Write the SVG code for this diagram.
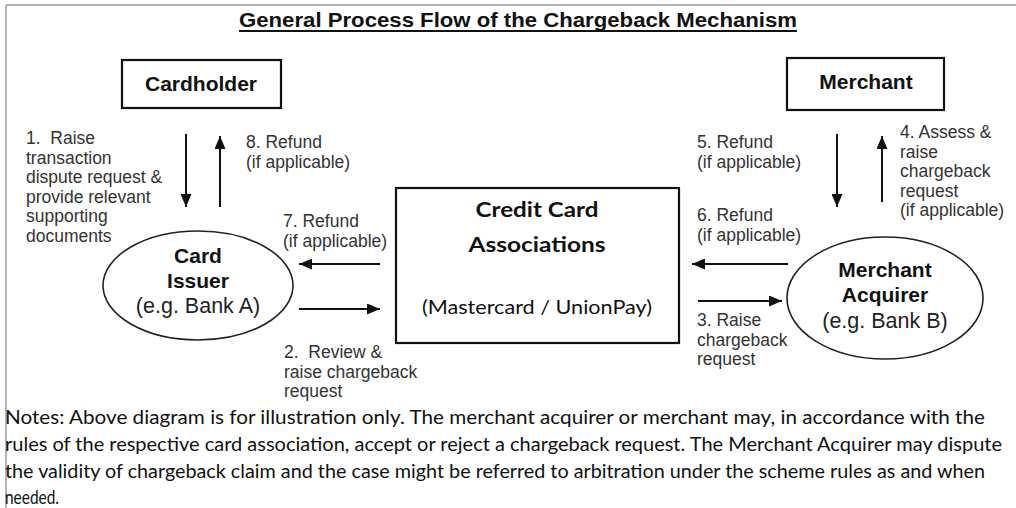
<svg xmlns="http://www.w3.org/2000/svg" width="1016" height="508" viewBox="0 0 1016 508">
<style>
.lbl{font-family:"Liberation Sans",Arial,sans-serif;font-size:17.5px;fill:#333}
.nodeT{font-family:"Liberation Sans",Arial,sans-serif;font-size:21px;font-weight:bold;fill:#111;text-anchor:middle}
.ell{font-family:"Liberation Sans",Arial,sans-serif;font-size:21.5px;fill:#222;text-anchor:middle}
.cal{font-family:Lato,"Open Sans",sans-serif;fill:#111;text-anchor:middle}
.note{font-family:Lato,"Open Sans",sans-serif;font-size:18.5px;fill:#111}
.box{fill:#fff;stroke:#111;stroke-width:2.2}
.oval{fill:#fff;stroke:#222;stroke-width:1.6}
.arr{stroke:#111;stroke-width:2;fill:none;marker-end:url(#ah)}
</style>
<defs>
<marker id="ah" markerWidth="13" markerHeight="11" refX="13" refY="5.5" orient="auto" markerUnits="userSpaceOnUse">
<path d="M0,0 L13,5.5 L0,11 z" fill="#111"/>
</marker>
</defs>
<rect width="1016" height="508" fill="#fff"/>
<g id="frame">
<line x1="6" y1="5" x2="1016" y2="5" stroke="#9a9a9a" stroke-width="1.5"/>
<line x1="6" y1="5" x2="6" y2="508" stroke="#9a9a9a" stroke-width="1.5"/>
</g>
<g id="title">
<text x="239" y="27" font-family="Liberation Sans,Arial,sans-serif" font-size="20" font-weight="bold" fill="#111" textLength="558" lengthAdjust="spacingAndGlyphs">General Process Flow of the Chargeback Mechanism</text>
<line x1="239" y1="31" x2="797" y2="31" stroke="#111" stroke-width="1.8"/>
</g>
<g id="cardholder">
<rect class="box" x="122" y="60" width="159" height="48"/>
<text class="nodeT" x="201" y="91">Cardholder</text>
</g>
<g id="merchant">
<rect class="box" x="787" y="58" width="157" height="52"/>
<text class="nodeT" x="866" y="89">Merchant</text>
</g>
<g id="associations">
<rect class="box" x="396" y="188" width="283" height="155"/>
<text class="cal" x="537" y="217" font-size="21" font-weight="bold" textLength="123" lengthAdjust="spacingAndGlyphs">Credit Card</text>
<text class="cal" x="537" y="252" font-size="21" font-weight="bold" textLength="137" lengthAdjust="spacingAndGlyphs">Associations</text>
<text class="cal" x="537" y="314" font-size="20" textLength="230" lengthAdjust="spacingAndGlyphs">(Mastercard / UnionPay)</text>
</g>
<g id="issuer">
<ellipse class="oval" cx="198" cy="285.5" rx="95" ry="54.5"/>
<text class="nodeT" x="198" y="263">Card</text>
<text class="nodeT" x="198" y="288">Issuer</text>
<text class="ell" x="198" y="313">(e.g. Bank A)</text>
</g>
<g id="acquirer">
<ellipse class="oval" cx="885" cy="298" rx="98" ry="61"/>
<text class="nodeT" x="885" y="277">Merchant</text>
<text class="nodeT" x="885" y="302">Acquirer</text>
<text class="ell" x="885" y="328">(e.g. Bank B)</text>
</g>
<g id="connectors">
<line class="arr" x1="186" y1="134" x2="186" y2="207"/>
<line class="arr" x1="220" y1="207" x2="220" y2="136"/>
<line class="arr" x1="380" y1="264" x2="299" y2="264"/>
<line class="arr" x1="299" y1="309" x2="380" y2="309"/>
<line class="arr" x1="837" y1="134" x2="837" y2="207"/>
<line class="arr" x1="882" y1="202" x2="882" y2="136"/>
<line class="arr" x1="788" y1="264" x2="692" y2="264"/>
<line class="arr" x1="698" y1="301" x2="782" y2="301"/>
</g>
<g id="labels">
<text class="lbl" x="26" y="144">1.&#160; Raise</text>
<text class="lbl" x="26" y="163.5">transaction</text>
<text class="lbl" x="26" y="183">dispute request &amp;</text>
<text class="lbl" x="26" y="202.5">provide relevant</text>
<text class="lbl" x="26" y="222">supporting</text>
<text class="lbl" x="26" y="241.5">documents</text>
<text class="lbl" x="246" y="148">8. Refund</text>
<text class="lbl" x="246" y="168">(if applicable)</text>
<text class="lbl" x="283" y="227">7. Refund</text>
<text class="lbl" x="283" y="247">(if applicable)</text>
<text class="lbl" x="284" y="358">2.&#160; Review &amp;</text>
<text class="lbl" x="284" y="378">raise chargeback</text>
<text class="lbl" x="284" y="397">request</text>
<text class="lbl" x="697" y="148">5. Refund</text>
<text class="lbl" x="697" y="168">(if applicable)</text>
<text class="lbl" x="697" y="221">6. Refund</text>
<text class="lbl" x="697" y="241">(if applicable)</text>
<text class="lbl" x="697" y="326">3. Raise</text>
<text class="lbl" x="697" y="346">chargeback</text>
<text class="lbl" x="697" y="365">request</text>
<text class="lbl" x="900" y="138">4. Assess &amp;</text>
<text class="lbl" x="900" y="157.5">raise</text>
<text class="lbl" x="900" y="177">chargeback</text>
<text class="lbl" x="900" y="196.5">request</text>
<text class="lbl" x="900" y="216">(if applicable)</text>
</g>
<g id="notes">
<text class="note" x="5" y="424" textLength="980" lengthAdjust="spacingAndGlyphs">Notes: Above diagram is for illustration only. The merchant acquirer or merchant may, in accordance with the</text>
<text class="note" x="5" y="451" textLength="997" lengthAdjust="spacingAndGlyphs">rules of the respective card association, accept or reject a chargeback request. The Merchant Acquirer may dispute</text>
<text class="note" x="5" y="478" textLength="980" lengthAdjust="spacingAndGlyphs">the validity of chargeback claim and the case might be referred to arbitration under the scheme rules as and when</text>
<text class="note" x="5" y="504" textLength="54" lengthAdjust="spacingAndGlyphs">needed.</text>
</g>
</svg>
